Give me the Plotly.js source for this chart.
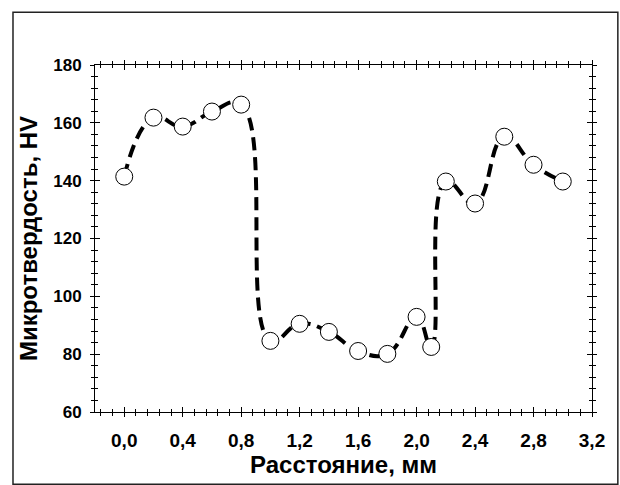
<!DOCTYPE html>
<html>
<head>
<meta charset="utf-8">
<script src="https://cdn.plot.ly/plotly-3.0.1.min.js"></script>
<style>html,body{margin:0;padding:0;background:#fff;}#chart{width:620px;height:485px;}</style>
</head>
<body>
<div id="chart"></div>
<script>
const distance = [0.0, 0.2, 0.4, 0.6, 0.8, 1.0, 1.2, 1.4, 1.6, 1.8, 2.0, 2.1, 2.2, 2.4, 2.6, 2.8, 3.0];
const hardness = [141.4, 161.8, 158.7, 163.9, 166.3, 84.6, 90.5, 87.7, 81.1, 80.1, 92.9, 82.5, 139.7, 132.1, 155.2, 145.5, 139.7];
const xTickVals = [0.0, 0.4, 0.8, 1.2, 1.6, 2.0, 2.4, 2.8, 3.2];
const xTickText = ['0,0', '0,4', '0,8', '1,2', '1,6', '2,0', '2,4', '2,8', '3,2'];
const yTickVals = [60, 80, 100, 120, 140, 160, 180];
const yTickText = ['60', '80', '100', '120', '140', '160', '180'];
const xTitle = 'Расстояние, мм';
const yTitle = 'Микротвердость, HV';

const fam = 'Liberation Sans, Arial, sans-serif';
const bold = s => '<b>' + s + '</b>';

const trace = {
  x: distance, y: hardness,
  type: 'scatter', mode: 'lines+markers',
  line: {color: '#000', width: 4, dash: '13px,7px', shape: 'spline', smoothing: 1.3},
  marker: {symbol: 'circle', size: 17, color: '#fff', line: {color: '#000', width: 1}},
  cliponaxis: false,
  showlegend: false
};
const dummy = {x: [distance[0]], y: [hardness[0]], xaxis: 'x2', yaxis: 'y2', mode: 'markers',
  marker: {opacity: 0}, showlegend: false, hoverinfo: 'skip'};

const baseX = {
  range: [-0.2, 3.2],
  showgrid: false, zeroline: false, showline: true, linecolor: '#000', linewidth: 1,
  tickcolor: '#000', tickwidth: 1, mirror: 'ticks'
};
const baseY = {
  range: [60, 180],
  showgrid: false, zeroline: false, showline: true, linecolor: '#000', linewidth: 1,
  tickcolor: '#000', tickwidth: 1, mirror: 'ticks'
};

const layout = {
  width: 620, height: 485,
  margin: {l: 95, r: 28, t: 65, b: 73},
  paper_bgcolor: '#fff', plot_bgcolor: '#fff',
  font: {family: fam, color: '#000'},
  xaxis: Object.assign({}, baseX, {
    tickmode: 'array', tickvals: xTickVals, ticktext: xTickText.map(bold),
    ticks: 'outside', ticklen: 4, ticklabelstandoff: 7,
    minor: {tick0: 0, dtick: 0.08, ticks: 'outside', ticklen: 3, tickcolor: '#000', tickwidth: 1},
    tickfont: {family: fam, size: 19, color: '#000'},
    title: {text: bold(xTitle), font: {family: fam, size: 24, color: '#000'}, standoff: 4}
  }),
  yaxis: Object.assign({}, baseY, {
    tickmode: 'array', tickvals: yTickVals, ticktext: yTickText.map(bold),
    ticks: 'outside', ticklen: 4, ticklabelstandoff: 5,
    minor: {tick0: 60, dtick: 4, ticks: 'outside', ticklen: 3, tickcolor: '#000', tickwidth: 1},
    tickfont: {family: fam, size: 17, color: '#000'},
    title: {text: bold(yTitle), font: {family: fam, size: 24, color: '#000'}, standoff: 8}
  }),
  xaxis2: Object.assign({}, baseX, {
    overlaying: 'x', matches: 'x', anchor: 'y2', showticklabels: false,
    tickmode: 'array', tickvals: xTickVals,
    ticks: 'inside', ticklen: 5,
    minor: {tick0: 0, dtick: 0.08, ticks: 'inside', ticklen: 3, tickcolor: '#000', tickwidth: 1}
  }),
  yaxis2: Object.assign({}, baseY, {
    overlaying: 'y', matches: 'y', anchor: 'x2', showticklabels: false,
    tickmode: 'array', tickvals: yTickVals,
    ticks: 'inside', ticklen: 5,
    minor: {tick0: 60, dtick: 4, ticks: 'inside', ticklen: 3, tickcolor: '#000', tickwidth: 1}
  }),
  shapes: [{
    type: 'rect', xref: 'paper', yref: 'paper',
    x0: -0.165, x1: 1.052, y0: -0.208, y1: 1.152,
    line: {color: '#222', width: 1.5}, fillcolor: 'rgba(0,0,0,0)', layer: 'below'
  }]
};

Plotly.newPlot('chart', [dummy, trace], layout, {staticPlot: true, displayModeBar: false});
</script>
</body>
</html>
